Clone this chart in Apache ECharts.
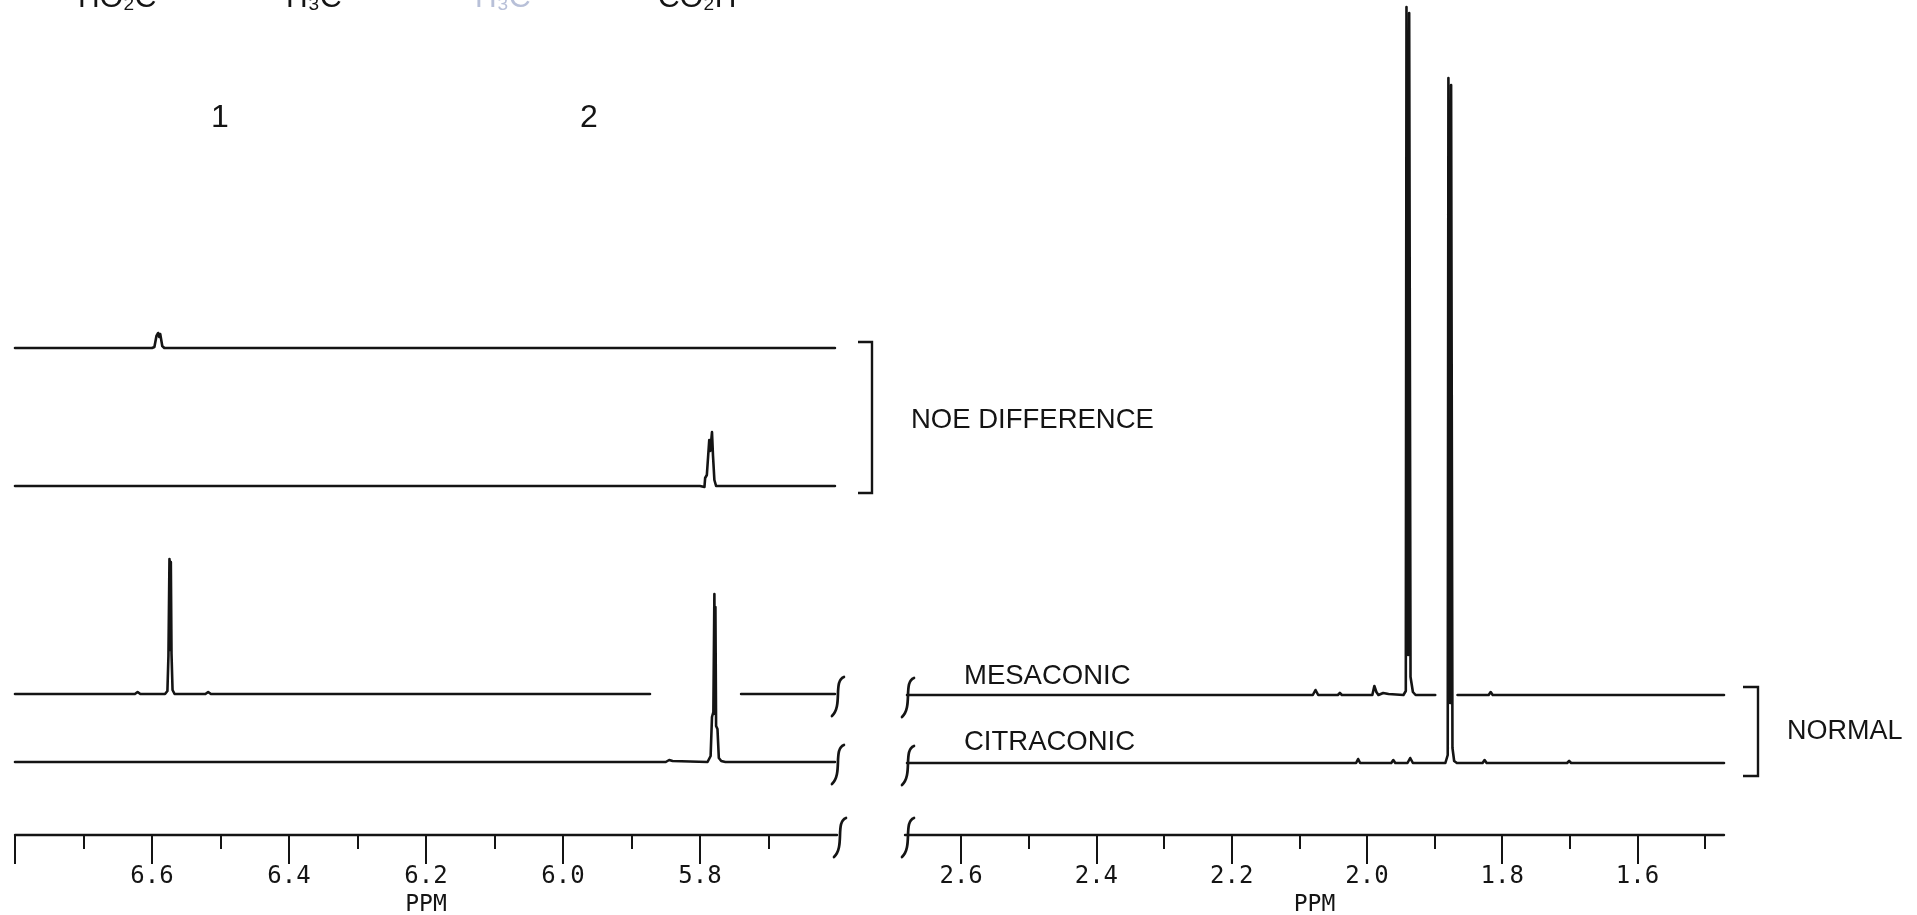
<!DOCTYPE html>
<html><head><meta charset="utf-8">
<script src="https://cdn.jsdelivr.net/npm/echarts@6/dist/echarts.min.js"></script>
<style>html,body{margin:0;padding:0;background:#fff}#c{width:1917px;height:915px}</style>
</head><body><div id="c"></div>
<script>
// ---------- tick values (ppm) ----------
const leftMajorTicks  = [6.8, 6.6, 6.4, 6.2, 6.0, 5.8];
const leftLabels      = [6.6, 6.4, 6.2, 6.0, 5.8];
const leftMinorTicks  = [6.7, 6.5, 6.3, 6.1, 5.9, 5.7];
const rightMajorTicks = [2.6, 2.4, 2.2, 2.0, 1.8, 1.6];
const rightLabels     = [2.6, 2.4, 2.2, 2.0, 1.8, 1.6];
const rightMinorTicks = [2.5, 2.3, 2.1, 1.9, 1.7, 1.5];

// ---------- spectra: [ppm, intensity]; null = pen lifted ----------
const noeIrr1 = [[6.80,0],[6.600,0],[6.5965,1],[6.5935,12],[6.591,15],[6.5895,11],[6.588,14],[6.585,2],[6.582,0],[5.603,0]];
const noeIrr2 = [[6.80,0],[5.800,0],[5.7935,-1],[5.7925,8],[5.790,11],[5.7875,12],[5.7865,46],[5.785,35],[5.7825,54],[5.781,30],[5.779,6],[5.7765,0],[5.603,0]];
const mesaconicLow = [[6.80,0],[6.625,0],[6.621,2],[6.617,0],[6.581,0],[6.5775,3],[6.576,38],[6.5745,135],[6.5735,44],[6.5725,132],[6.5715,40],[6.570,4],[6.567,0],[6.522,0],[6.518,2],[6.514,0],[5.873,0],[5.80,null],[5.740,0],[5.603,0]];
const citraconicLow = [[6.80,0],[5.850,0],[5.845,2],[5.840,1],[5.789,0],[5.7865,1],[5.7845,6],[5.7825,45],[5.7805,50],[5.779,168],[5.778,48],[5.7775,155],[5.7765,36],[5.7745,33],[5.7725,4],[5.769,1],[5.763,0],[5.603,0]];
const mesaconicHigh = [[2.680,0],[2.080,0],[2.076,5],[2.072,0],[2.043,0],[2.040,2],[2.037,0],[1.992,0],[1.989,9],[1.988,10],[1.986,3],[1.983,0],[1.976,2],[1.968,1],[1.946,0],[1.9425,4],[1.9415,688],[1.939,40],[1.9375,682],[1.9355,18],[1.934,17],[1.932,3],[1.928,0],[1.899,0],[1.88,null],[1.866,0],[1.820,0],[1.817,3],[1.814,0],[1.472,0]];
const citraconicHigh = [[2.680,0],[2.016,0],[2.013,4],[2.010,0],[1.964,0],[1.961,3],[1.958,0],[1.940,0],[1.936,5],[1.932,0],[1.884,0],[1.8805,8],[1.8795,685],[1.877,60],[1.8755,678],[1.8735,15],[1.871,2],[1.867,0],[1.829,0],[1.826,3],[1.823,0],[1.704,0],[1.701,2],[1.698,0],[1.472,0]];

// ---------- layout ----------
const INK = '#141414';
const FONT = 'Liberation Sans';
const MONO = 'DejaVu Sans Mono';
// baselines in axis units (1 unit = 1px above the ppm axis line)
const OFF = {noe1: 487, noe2: 349, mesL: 141, citL: 73, mesR: 140, citR: 72};

function trace(data, off) {
  return data.map(p => p[1] === null ? [p[0], '-'] : [p[0], p[1] + off]);
}
function lineSeries(data, off, axis) {
  return {
    type: 'line', xAxisIndex: axis, yAxisIndex: axis === 0 ? 0 : 1,
    data: trace(data, off), showSymbol: false, symbol: 'none', connectNulls: false,
    lineStyle: {color: INK, width: 2.6, join: 'round', cap: 'round'}, z: 5, silent: true
  };
}
function majorAxis(grid, min, max, ticks, labels) {
  return {
    type: 'value', gridIndex: grid, min: min, max: max, inverse: true, position: 'bottom',
    axisLine: {show: true, onZero: false, lineStyle: {color: INK, width: 2.4}},
    axisTick: {show: true, customValues: ticks, length: 29, lineStyle: {color: INK, width: 2}},
    axisLabel: {show: true, customValues: labels, formatter: v => v.toFixed(1), margin: 30,
      fontFamily: MONO, fontSize: 24, color: INK},
    splitLine: {show: false},
    name: 'PPM', nameLocation: 'middle', nameGap: 56,
    nameTextStyle: {fontFamily: MONO, fontSize: 23, color: INK}
  };
}
function minorAxis(grid, min, max, ticks) {
  return {
    type: 'value', gridIndex: grid, min: min, max: max, inverse: true, position: 'bottom',
    axisLine: {show: false, onZero: false},
    axisTick: {show: true, customValues: ticks, length: 14, lineStyle: {color: INK, width: 2}},
    axisLabel: {show: false, customValues: ticks},
    splitLine: {show: false}
  };
}

const chart = echarts.init(document.getElementById('c'), null, {renderer: 'canvas'});
chart.setOption({
  animation: false,
  backgroundColor: '#ffffff',
  grid: [
    {left: 15, right: 1080, top: 0, bottom: 80, containLabel: false, outerBoundsMode: 'none'},
    {left: 905, right: 193, top: 0, bottom: 80, containLabel: false, outerBoundsMode: 'none'}
  ],
  xAxis: [
    majorAxis(0, 5.6, 6.8, leftMajorTicks, leftLabels),
    minorAxis(0, 5.6, 6.8, leftMinorTicks),
    majorAxis(1, 1.472, 2.683, rightMajorTicks, rightLabels),
    minorAxis(1, 1.472, 2.683, rightMinorTicks)
  ],
  yAxis: [
    {type: 'value', gridIndex: 0, min: 0, max: 835, show: false},
    {type: 'value', gridIndex: 1, min: 0, max: 835, show: false}
  ],
  series: [
    lineSeries(noeIrr1, OFF.noe1, 0),
    lineSeries(noeIrr2, OFF.noe2, 0),
    lineSeries(mesaconicLow, OFF.mesL, 0),
    lineSeries(citraconicLow, OFF.citL, 0),
    lineSeries(mesaconicHigh, OFF.mesR, 2),
    lineSeries(citraconicHigh, OFF.citR, 2)
  ]
});

// ---------- decorations (breaks, brackets, labels) ----------
function px(axis, ppm, y) {
  return chart.convertToPixel({xAxisIndex: axis, yAxisIndex: axis === 0 ? 0 : 1}, [ppm, y]);
}
function curl(p) {
  const x = p[0] + 1, y = p[1];
  return {type: 'bezierCurve', z: 10, silent: true,
    shape: {x1: x + 8, y1: y - 17, cpx1: x - 3, cpy1: y - 13, cpx2: x + 7, cpy2: y + 12, x2: x - 4, y2: y + 22},
    style: {stroke: INK, lineWidth: 2.7, fill: null, lineCap: 'round'}};
}
function txt(x, y, s, size, opts) {
  return {type: 'text', x: x, y: y, z: 10, silent: true,
    style: Object.assign({text: s, fontFamily: FONT, fontSize: size, fill: INK,
      verticalAlign: 'middle', align: 'left'}, opts || {})};
}
function bracket(xl, xr, y1, y2) {
  return {type: 'polyline', z: 10, silent: true,
    shape: {points: [[xl, y1], [xr, y1], [xr, y2], [xl, y2]]},
    style: {stroke: INK, lineWidth: 2.4, fill: null}};
}

const g = [];
g.push(curl(px(0, 5.603, OFF.mesL)));
g.push(curl(px(0, 5.603, OFF.citL)));
g.push(curl(px(0, 5.6, 0)));
g.push(curl(px(2, 2.683, OFF.mesR)));
g.push(curl(px(2, 2.683, OFF.citR)));
g.push(curl(px(2, 2.683, 0)));
g.push(bracket(858, 872, 342, 493));
g.push(bracket(1743, 1758, 687, 776));
g.push(txt(911, 420, 'NOE DIFFERENCE', 27.5));
g.push(txt(1787, 732, 'NORMAL', 27));
g.push(txt(964, 676, 'MESACONIC', 27.5));
g.push(txt(964, 742, 'CITRACONIC', 27.5));
g.push(txt(220, 118, '1', 32, {align: 'center'}));
g.push(txt(589, 118, '2', 32, {align: 'center'}));
// cropped structure formulas at the very top edge
g.push(txt(78, 14, 'HO₂C', 30, {verticalAlign: 'bottom'}));
g.push(txt(286, 14, 'H₃C', 30, {verticalAlign: 'bottom'}));
g.push(txt(475, 14, 'H₃C', 30, {verticalAlign: 'bottom', fill: '#b8c0d8'}));
g.push(txt(658, 14, 'CO₂H', 30, {verticalAlign: 'bottom'}));
chart.setOption({graphic: g});
</script></body></html>
